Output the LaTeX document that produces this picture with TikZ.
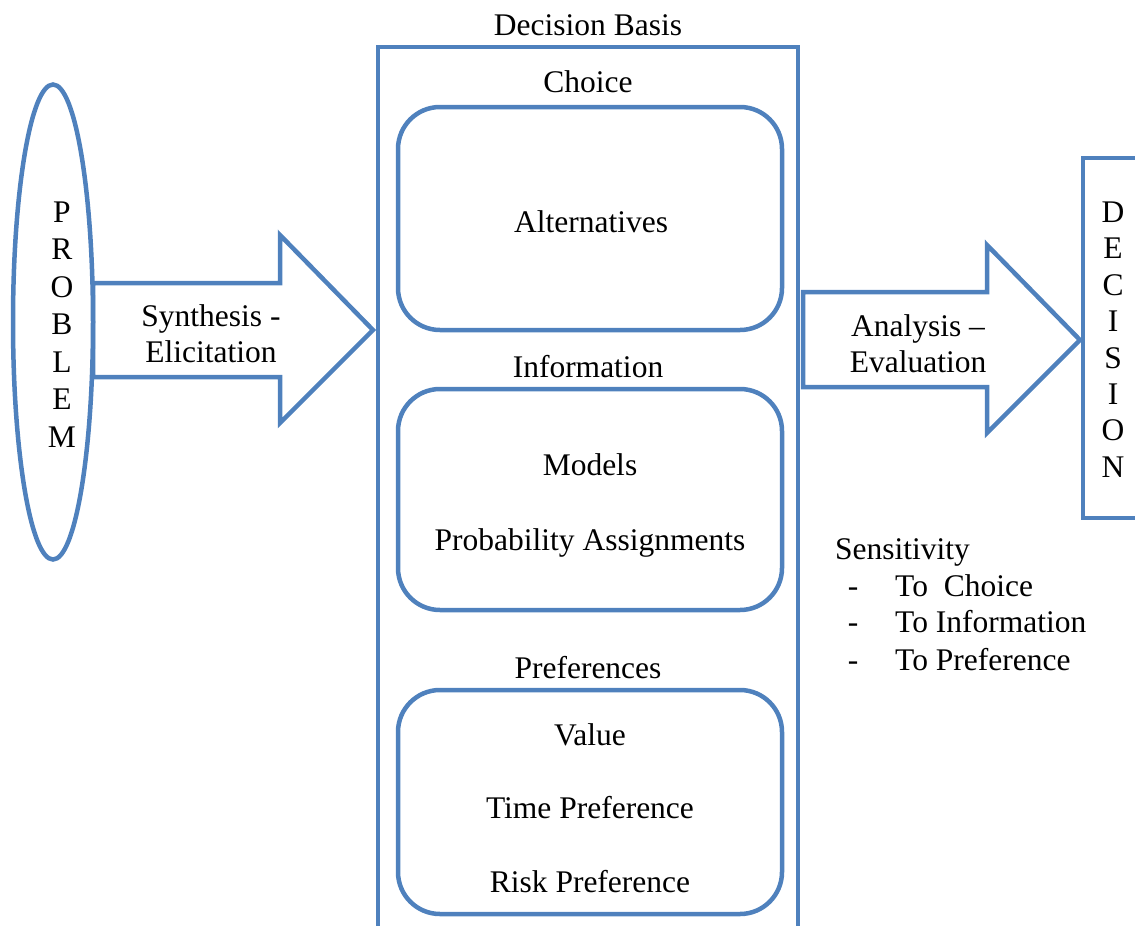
\documentclass[tikz,border=0pt]{standalone}
\usepackage{fontspec}
\setmainfont{Liberation Serif}
\usetikzlibrary{shapes.geometric}
\definecolor{ob}{HTML}{4F81BD}
\begin{document}
\begin{tikzpicture}[x=1pt,y=-1pt,
  line/.style={draw=ob, line width=4.5pt, line join=miter},
  txt/.style={font=\fontsize{31.5}{36}\selectfont, inner sep=0pt, align=center},
  lt/.style={txt, anchor=base},
  rbox/.style={line, rounded corners=42pt}]
\useasboundingbox (0,0) rectangle (1135,926);
\clip (0,0) rectangle (1135,926);

% left block arrow
\draw[line] (93,283) -- (280,283) -- (280,235) -- (373,330) -- (280,423) -- (280,377) -- (93,377) -- cycle;
\node[txt] (synth) at (211,334) {Synthesis -\\Elicitation};

% problem ellipse
\node[line, fill=white, ellipse, minimum width=80pt, minimum height=475pt, inner sep=0pt] (problem) at (53,322) {};
\node[txt, font=\fontsize{31.5}{37.5}\selectfont] (problemtxt) at (62,324.5) {P\\R\\O\\B\\L\\E\\M};

% decision basis frame (open at bottom)
\coordinate (dbl) at (378,930);
\coordinate (dbr) at (798,930);
\draw[line] (dbl) -- (378,47) -- (798,47) -- (dbr);
\node[lt] (basis) at (588,35) {Decision Basis};

% choice
\node[lt] (choice) at (588,92) {Choice};
\draw[rbox] (398,107) rectangle (782,330);
\node[lt] (alt) at (591,232) {Alternatives};

% information
\node[lt] (info) at (588,377) {Information};
\draw[rbox] (398,389) rectangle (782,610);
\node[lt] (models) at (590,475) {Models};
\node[lt] (prob) at (590,550) {Probability Assignments};

% preferences
\node[lt] (pref) at (588,678) {Preferences};
\draw[rbox] (398,690) rectangle (782,914);
\node[lt] (value) at (590,745) {Value};
\node[lt] (time) at (590,818) {Time Preference};
\node[lt] (risk) at (590,892) {Risk Preference};

% right block arrow
\draw[line] (803,292) -- (987,292) -- (987,245) -- (1080,340) -- (987,433) -- (987,387) -- (803,387) -- cycle;
\node[txt] (anal) at (918,343.5) {Analysis --\\Evaluation};

% decision box (open at right)
\draw[line] (1145,158) -- (1083,158) -- (1083,518) -- (1145,518);
\node[txt, font=\fontsize{31.5}{36.4}\selectfont] (decision) at (1113,339.5) {D\\E\\C\\I\\S\\I\\O\\N};

% sensitivity
\node[lt, anchor=base west] (sens) at (835,559) {Sensitivity};
\node[lt] (d1) at (853,596) {-};
\node[lt] (d2) at (853,632) {-};
\node[lt] (d3) at (853,670) {-};
\node[lt, anchor=base west] (s1) at (895,596) {To\ \ Choice};
\node[lt, anchor=base west] (s2) at (895,632) {To Information};
\node[lt, anchor=base west] (s3) at (895,670) {To Preference};
\end{tikzpicture}
\end{document}
